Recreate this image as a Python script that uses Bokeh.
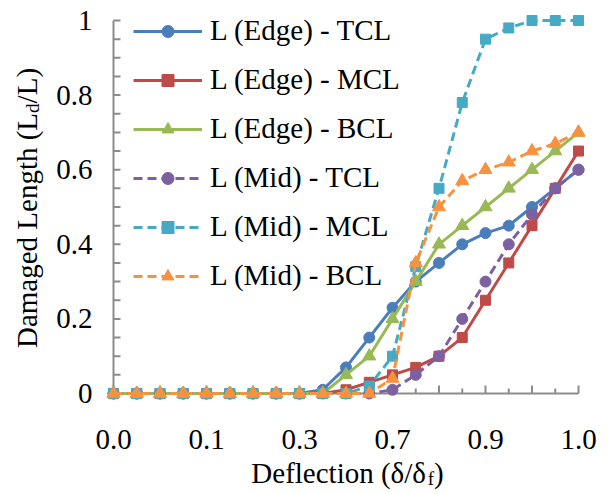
import math
from bokeh.plotting import figure
from bokeh.models import Range1d, Legend, LegendItem, Label
from bokeh.core.properties import value
from bokeh.embed import file_html
from bokeh.resources import INLINE

# ---- data ----
steps = list(range(21))                      # category index along the deflection axis
label_steps = [0, 4, 8, 12, 16, 20]
tick_labels = ["0.0", "0.1", "0.3", "0.7", "0.9", "1.0"]
y_ticks = [0, 0.2, 0.4, 0.6, 0.8, 1]
y_tick_labels = ["0", "0.2", "0.4", "0.6", "0.8", "1"]
y_minor = [0, 0.05, 0.1, 0.15, 0.2, 0.25, 0.3, 0.35, 0.4, 0.45, 0.5,
           0.55, 0.6, 0.65, 0.7, 0.75, 0.8, 0.85, 0.9, 0.95, 1.0]

names = ["L (Edge) - TCL", "L (Edge) - MCL", "L (Edge) - BCL",
         "L (Mid) - TCL", "L (Mid) - MCL", "L (Mid) - BCL"]

edge_tcl = [0, 0, 0, 0, 0, 0, 0, 0, 0, 0.01, 0.07, 0.15, 0.23, 0.30, 0.35, 0.40, 0.43, 0.45, 0.50, 0.55, 0.60]
edge_mcl = [0, 0, 0, 0, 0, 0, 0, 0, 0, 0, 0.01, 0.03, 0.05, 0.07, 0.10, 0.15, 0.25, 0.35, 0.45, 0.55, 0.65]
edge_bcl = [0, 0, 0, 0, 0, 0, 0, 0, 0, 0, 0.05, 0.10, 0.20, 0.30, 0.40, 0.45, 0.50, 0.55, 0.60, 0.65, 0.70]
mid_tcl = [0, 0, 0, 0, 0, 0, 0, 0, 0, 0, 0, 0, 0.01, 0.05, 0.10, 0.20, 0.30, 0.40, 0.48, 0.55, 0.60]
mid_mcl = [0, 0, 0, 0, 0, 0, 0, 0, 0, 0, 0, 0.02, 0.10, 0.34, 0.55, 0.78, 0.95, 0.98, 1.0, 1.0, 1.0]
mid_bcl = [0, 0, 0, 0, 0, 0, 0, 0, 0, 0, 0, 0, 0.04, 0.35, 0.50, 0.57, 0.60, 0.62, 0.65, 0.67, 0.70]
series = [edge_tcl, edge_mcl, edge_bcl, mid_tcl, mid_mcl, mid_bcl]

# ---- styles / layout ----
colors = ["#4A7EBB", "#BE4B48", "#98B954", "#7D60A0", "#46AAC5", "#F69240"]
dashes = ["solid", "solid", "solid", "9 5", "9 5", "9 5"]
markers = ["circle", "square", "triangle", "circle", "square", "triangle"]
msizes = [11, 10, 13, 11, 10, 13]
FONT = "Liberation Serif"
FS = "29px"
AXC = "#8c8c8c"

W, H = 608, 494
X0_PX, X_UNIT = 113.0, 23.25     # screen x of first category, px per category
Y0_PX, Y_UNIT = 393.0, 373.0     # screen y of value 0, px per unit value


def dx(px):
    return px / X_UNIT


def dy(px):
    return px / Y_UNIT


p = figure(width=W, height=H, title=None,
           x_range=Range1d(-X0_PX / X_UNIT, (W - X0_PX) / X_UNIT),
           y_range=Range1d(-(H - Y0_PX) / Y_UNIT, Y0_PX / Y_UNIT),
           x_axis_type=None, y_axis_type=None,
           output_backend="svg", toolbar_location=None, min_border=0)
p.outline_line_color = None

# axis lines
x_lo, x_hi = steps[0], steps[-1]
y_lo, y_hi = y_ticks[0], y_ticks[-1]
p.segment(x0=[x_lo], y0=[y_lo], x1=[x_hi], y1=[y_lo], line_color=AXC, line_width=2)
p.segment(x0=[x_lo], y0=[y_lo], x1=[x_lo], y1=[y_hi], line_color=AXC, line_width=2)
# x ticks (inside): longer at even categories
p.segment(x0=steps, y0=[y_lo] * len(steps), x1=steps,
          y1=[y_lo + (dy(8) if s % 2 == 0 else dy(5)) for s in steps],
          line_color=AXC, line_width=2)
# y ticks (inside) every 0.05
p.segment(x0=[x_lo] * len(y_minor), y0=y_minor, x1=[x_lo + dx(7)] * len(y_minor), y1=y_minor,
          line_color=AXC, line_width=2)

# tick labels
p.text(x=label_steps, y=[y_lo - dy(46)] * len(label_steps), text=tick_labels,
       text_font=value(FONT), text_font_size=value(FS), text_color="black",
       text_align="center", text_baseline="alphabetic")
p.text(x=[x_lo - dx(21)] * len(y_ticks), y=y_ticks, text=y_tick_labels,
       text_font=value(FONT), text_font_size=value(FS), text_color="black",
       text_align="right", text_baseline="middle")

items = []
for name, vals, c, d, m, s in zip(names, series, colors, dashes, markers, msizes):
    lr = p.line(steps, vals, line_color=c, line_width=3, line_dash=d, line_join="round")
    sr = p.scatter(steps, vals, marker=m, size=s, fill_color=c, line_color=c)
    items.append(LegendItem(label=name, renderers=[lr, sr]))

legend = Legend(items=items, location=(133, 202), margin=0, padding=0, spacing=16,
                glyph_width=69, glyph_height=30, label_height=30, label_standoff=8,
                label_text_font=FONT, label_text_font_size=FS, label_text_color="black",
                label_text_baseline="middle",
                background_fill_alpha=0, border_line_color=None)
p.add_layout(legend)

# ---- axis titles with subscripts (screen units from bottom-left) ----
px = 29.0
sub = 19.0
w1 = 6.082 * px
ws = 0.333 * sub
w2 = 0.333 * px
xstart = 347 - (w1 + ws + w2) / 2
yb = 22
p.add_layout(Label(x=xstart, y=yb, x_units="screen", y_units="screen", text="Deflection (δ/δ",
                   text_font=FONT, text_font_size=FS, text_color="black",
                   text_align="left", text_baseline="alphabetic"))
p.add_layout(Label(x=xstart + w1, y=yb - 6, x_units="screen", y_units="screen", text="f",
                   text_font=FONT, text_font_size="19px", text_color="black",
                   text_align="left", text_baseline="alphabetic"))
p.add_layout(Label(x=xstart + w1 + ws, y=yb, x_units="screen", y_units="screen", text=")",
                   text_font=FONT, text_font_size=FS, text_color="black",
                   text_align="left", text_baseline="alphabetic"))

v1 = 8.109 * px
vs = 0.5 * sub
v2 = 1.222 * px
ycenter = H - 207.5
ystart = ycenter - (v1 + vs + v2) / 2
xb = 26
ang = math.pi / 2
p.add_layout(Label(x=xb, y=ystart, x_units="screen", y_units="screen", text="Damaged Length (L", angle=ang,
                   text_font=FONT, text_font_size=FS, text_color="black",
                   text_align="left", text_baseline="alphabetic"))
p.add_layout(Label(x=xb + 6, y=ystart + v1, x_units="screen", y_units="screen", text="d", angle=ang,
                   text_font=FONT, text_font_size="19px", text_color="black",
                   text_align="left", text_baseline="alphabetic"))
p.add_layout(Label(x=xb, y=ystart + v1 + vs, x_units="screen", y_units="screen", text="/L)", angle=ang,
                   text_font=FONT, text_font_size=FS, text_color="black",
                   text_align="left", text_baseline="alphabetic"))

open("out.html", "w").write(file_html(p, INLINE))
